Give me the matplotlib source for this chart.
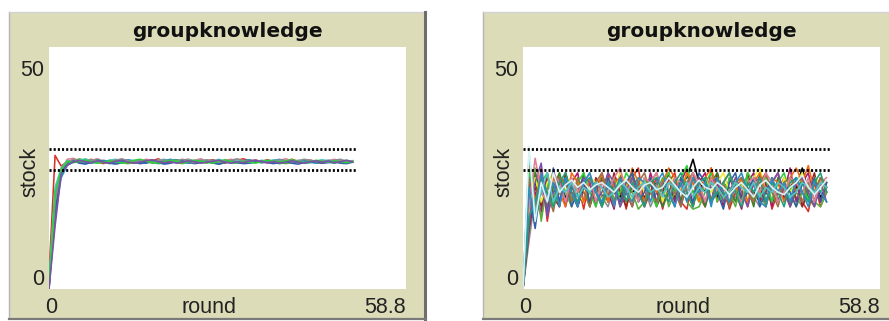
import matplotlib.pyplot as plt
from matplotlib.patches import Rectangle

# NetLogo base colours (plus a couple of shades)
NL = {
    "gray": "#8d8d8d", "red": "#d73229", "orange": "#f16913", "brown": "#9d6e48",
    "yellow": "#eded31", "green": "#59b03c", "lime": "#2cd13b", "turquoise": "#1d9f78",
    "cyan": "#54c4c4", "sky": "#2d8dbe", "blue": "#345da9", "violet": "#7c50a4",
    "magenta": "#a71b6a", "pink": "#e07f96", "black": "#000000", "pale": "#d8f4f4",
    "darkred": "#9a231d", "darkgreen": "#3f7d2b",
}

X_MAX = 58.8
Y_MAX = 50
THRESHOLDS = [28.9, 24.6]
THRESHOLD_END = 50.5

# left plot: stock per group, converging run
left_series = {
    "red": [3, 27.6, 25.4, 26.3, 26.6, 26.1, 26.4, 26.8, 26.2, 25.9, 26.5, 26.7, 26.3, 26.0, 26.4, 26.6, 26.2,
            26.5, 26.9, 26.4, 26.1, 26.3, 26.6, 26.8, 26.4, 26.2, 26.5, 26.7, 26.3, 26.0, 26.4, 26.6, 26.9, 26.5,
            26.2, 26.4, 26.7, 26.3, 26.1, 26.5, 26.8, 26.4, 26.2, 26.6, 26.3, 26.0, 26.4, 26.7, 26.5, 26.2, 26.4],
    "pink": [1, 14, 24.5, 26.8, 27.0, 26.5, 26.2, 26.6, 26.9, 26.4, 26.1, 26.3, 26.7, 26.5, 26.2, 26.4, 26.8,
             26.6, 26.3, 26.0, 26.4, 26.7, 26.5, 26.2, 26.6, 26.9, 26.4, 26.1, 26.3, 26.6, 26.8, 26.4, 26.2, 26.5,
             26.7, 26.3, 26.0, 26.4, 26.6, 26.9, 26.5, 26.2, 26.4, 26.7, 26.3, 26.1, 26.5, 26.8, 26.4, 26.2, 26.5],
    "green": [0.5, 17, 23.5, 25.8, 26.4, 26.9, 26.5, 26.2, 26.0, 26.3, 26.6, 26.4, 26.1, 25.9, 26.2, 26.5, 26.3,
              26.0, 26.2, 26.6, 26.4, 26.1, 25.9, 26.3, 26.5, 26.2, 26.0, 26.4, 26.7, 26.3, 26.1, 26.0, 26.3, 26.6,
              26.4, 26.1, 26.3, 26.5, 26.2, 25.9, 26.1, 26.4, 26.6, 26.3, 26.0, 26.2, 26.5, 26.3, 26.1, 26.4, 26.2],
    "turquoise": [0, 19, 24.2, 25.9, 26.6, 26.3, 26.0, 26.4, 26.7, 26.2, 25.9, 26.2, 26.5, 26.3, 26.0, 26.3, 26.6,
                  26.2, 25.9, 26.1, 26.5, 26.7, 26.3, 26.0, 26.2, 26.4, 26.6, 26.2, 25.8, 26.1, 26.4, 26.2, 26.0,
                  26.3, 26.5, 26.2, 26.4, 26.1, 25.9, 26.2, 26.5, 26.3, 26.0, 26.1, 26.4, 26.6, 26.2, 26.0, 26.3,
                  26.5, 26.3],
    "cyan": [2, 21, 25.0, 26.5, 26.2, 26.6, 26.9, 26.4, 26.1, 26.3, 26.6, 26.8, 26.4, 26.2, 26.5, 26.3, 26.0,
             26.3, 26.6, 26.8, 26.4, 26.2, 26.4, 26.7, 26.5, 26.1, 26.3, 26.5, 26.8, 26.4, 26.2, 26.5, 26.3, 26.0,
             26.2, 26.6, 26.4, 26.7, 26.5, 26.2, 26.3, 26.6, 26.4, 26.1, 26.4, 26.7, 26.5, 26.2, 26.4, 26.6, 26.4],
    "sky": [0, 15, 23.0, 25.5, 26.3, 26.5, 26.2, 26.0, 26.3, 26.6, 26.3, 26.1, 26.4, 26.7, 26.5, 26.2, 26.0,
            26.4, 26.2, 26.5, 26.8, 26.4, 26.2, 26.0, 26.3, 26.6, 26.4, 26.1, 26.5, 26.3, 26.0, 26.2, 26.5, 26.7,
            26.3, 26.1, 26.2, 26.5, 26.8, 26.4, 26.1, 26.3, 26.5, 26.2, 26.0, 26.3, 26.6, 26.4, 26.2, 26.5, 26.3],
    "blue": [1, 16, 24.0, 26.1, 26.5, 26.0, 25.8, 26.2, 26.5, 26.3, 26.0, 25.8, 26.1, 26.4, 26.2, 25.9, 26.1,
             26.4, 26.1, 25.8, 26.0, 26.3, 26.5, 26.2, 25.9, 26.1, 26.3, 26.0, 25.8, 26.2, 26.5, 26.1, 25.9, 26.0,
             26.3, 26.5, 26.1, 25.9, 26.2, 26.4, 26.0, 25.8, 26.1, 26.4, 26.2, 26.0, 26.1, 26.3, 26.0, 25.9, 26.2],
    "gray": [0, 18, 24.8, 26.2, 26.8, 26.4, 26.3, 26.7, 26.4, 26.1, 26.4, 26.6, 26.9, 26.5, 26.3, 26.6, 26.4,
             26.1, 26.5, 26.7, 26.3, 26.5, 26.8, 26.4, 26.1, 26.4, 26.7, 26.5, 26.2, 26.4, 26.6, 26.9, 26.5, 26.3,
             26.6, 26.4, 26.1, 26.4, 26.7, 26.5, 26.3, 26.5, 26.8, 26.6, 26.3, 26.5, 26.3, 26.6, 26.8, 26.4, 26.5],
    "lime": [0.5, 20, 24.6, 26.4, 26.1, 26.4, 26.7, 26.3, 26.0, 26.2, 26.5, 26.3, 26.0, 26.2, 26.6, 26.8, 26.4,
             26.2, 26.0, 26.3, 26.6, 26.4, 26.1, 26.3, 26.6, 26.4, 26.2, 26.0, 26.4, 26.7, 26.3, 26.1, 26.4, 26.2,
             26.0, 26.3, 26.6, 26.4, 26.2, 26.5, 26.7, 26.3, 26.1, 26.3, 26.6, 26.4, 26.2, 26.5, 26.3, 26.1, 26.4],
    "violet": [0, 13, 23.8, 25.6, 26.2, 26.6, 26.3, 26.1, 26.5, 26.2, 26.0, 26.4, 26.6, 26.2, 26.0, 26.2, 26.5,
               26.7, 26.3, 26.1, 26.3, 26.0, 26.2, 26.5, 26.3, 26.0, 26.2, 26.4, 26.6, 26.2, 26.0, 26.3, 26.1,
               26.4, 26.6, 26.3, 26.1, 26.3, 26.0, 26.2, 26.5, 26.2, 26.0, 26.3, 26.5, 26.2, 26.4, 26.1, 26.3,
               26.6, 26.2],
}

# right plot: stock per group, noisy run (black first so it sits underneath)
right_series = {
    "black": [0, 19, 22, 18, 21, 20, 22, 19, 20, 17, 21, 20, 22, 19, 21, 20, 19, 22, 20, 21, 19, 20, 22, 21, 20,
              19, 22, 23, 26.8, 22, 20, 21, 19, 22, 20, 21, 19, 22, 20, 18, 21, 20, 22, 19, 18, 21, 25, 20, 22,
              19, 21],
    "gray": [0, 10, 19, 15, 21, 20, 18, 22, 19, 21, 18, 20, 22, 19, 17, 21, 20, 18, 22, 19, 21, 17, 20, 22, 19,
             21, 18, 20, 23, 19, 17, 21, 20, 22, 18, 19, 21, 23, 19, 17, 21, 20, 18, 22, 21, 19, 17, 21, 20, 18, 21],
    "red": [0, 22, 15, 25, 14, 22, 17, 24, 18, 22, 16.5, 23, 20, 17, 24, 18, 22, 16.5, 23, 25, 17, 20, 23, 16.5,
            22, 24, 18, 16.5, 23, 20, 17, 25, 18, 22, 16.5, 20, 23, 17, 22, 18, 24, 16.5, 20, 23, 17, 22, 18, 16,
            22, 17, 20],
    "darkred": [0, 16, 21, 17, 23, 19, 17, 24, 20, 18, 22, 17, 23, 21, 18, 24, 20, 17, 21, 23, 18, 22, 17, 20,
                24, 18, 22, 20, 17, 23, 21, 18, 24, 20, 17, 22, 19, 24, 18, 21, 17, 22, 24, 18, 21, 23, 17, 20,
                24, 18, 22],
    "magenta": [0, 12, 20, 16, 24, 18, 23, 17, 22, 24, 18, 22, 17, 23, 20, 16.5, 24, 20, 17, 22, 18, 24, 20, 17,
                23, 18, 22, 25, 17, 22, 24, 18, 22, 17, 23, 20, 16.5, 22, 24, 18, 22, 17, 23, 20, 25, 18, 22, 24,
                18, 22, 20],
    "green": [0, 18, 25, 14, 22, 18, 24, 20, 17, 23, 20, 18, 22, 17, 20, 23, 18, 22, 20, 16.5, 18, 22, 20, 23,
              17, 20, 22, 18, 16.5, 17, 20, 23, 18, 22, 20, 17, 22, 23, 18, 20, 17, 22, 18, 23, 20, 17, 20, 22,
              18, 17, 20],
    "darkgreen": [0, 13, 24, 20, 17, 21, 24, 18, 21, 19, 24, 17, 21, 23, 18, 22, 17, 21, 24, 20, 18, 23, 21, 17,
                  20, 23, 18, 24, 20, 21, 17, 22, 24, 19, 21, 18, 23, 21, 17, 24, 20, 18, 23, 21, 17, 20, 23, 19,
                  17, 23, 21],
    "lime": [0, 25, 16, 22, 24, 17, 20, 23, 18, 22, 24, 20, 17, 22, 23, 18, 20, 24, 22, 18, 23, 20, 17, 22, 24,
             20, 23, 25.5, 20, 18, 22, 24, 20, 18, 23, 22, 18, 24, 22, 20, 23, 18, 22, 24, 20, 23, 22, 18, 23, 20,
             22],
    "yellow": [0, 16, 23, 18, 22, 24, 18, 22, 23, 20, 18, 23, 22, 18, 23, 20, 24, 22, 18, 23, 20, 22, 24, 18, 22,
               23, 20, 24, 22, 18, 23, 20, 22, 24, 20, 23, 22, 18, 23, 25, 20, 22, 18, 23, 20, 22, 24, 20, 23, 22,
               20],
    "orange": [0, 27, 18, 24, 16.5, 23, 20, 17, 24, 22, 18, 23, 20, 24, 18, 22, 23, 20, 25, 22, 18, 23, 20, 22,
               25, 23, 20, 24, 22, 18, 23, 25, 20, 22, 24, 20, 23, 18, 22, 24, 20, 23, 22, 18, 23, 25, 22, 25.5,
               20, 23, 22],
    "blue": [0, 20, 12.5, 22, 16, 25, 18, 23, 17, 20, 23, 18, 22, 17, 23, 20, 18, 22, 24, 18, 20, 23, 18, 22, 20,
             17, 23, 20, 18, 24, 22, 18, 20, 16.5, 22, 24, 18, 20, 23, 17, 20, 23, 18, 22, 20, 17, 22, 20, 23, 18,
             22],
    "violet": [0, 14, 22, 26, 15, 20, 23, 18, 22, 17, 23, 22, 18, 20, 24, 22, 17, 20, 23, 20, 17, 22, 24, 20, 18,
               23, 17, 22, 24, 20, 18, 22, 23, 18, 20, 23, 20, 17, 22, 23, 18, 22, 24, 20, 17, 22, 23, 20, 17, 22,
               18],
    "brown": [0, 23, 17, 23, 20, 16, 23, 22, 18, 23, 20, 17, 22, 24, 20, 18, 23, 20, 17, 22, 24, 20, 18, 22, 23,
              20, 17, 22, 24, 20, 22, 18, 23, 20, 17, 22, 23, 20, 18, 22, 24, 20, 17, 22, 23, 20, 18, 22, 20, 23,
              20],
    "pink": [0, 17, 27, 20, 18, 24, 22, 18, 23, 20, 22, 24, 18, 22, 20, 23, 25, 20, 22, 18, 23, 22, 24, 20, 18,
             23, 22, 20, 24, 22, 18, 23, 20, 22, 24, 20, 18, 22, 23, 20, 24, 22, 18, 20, 23, 22, 20, 23, 18, 22, 23],
    "turquoise": [0, 15, 18, 23, 20, 17, 22, 24, 20, 18, 22, 23, 20, 17, 22, 20, 23, 18, 22, 20, 17, 22, 23, 20,
                  18, 22, 24, 20, 17, 22, 23, 18, 20, 22, 24, 20, 17, 22, 20, 23, 18, 22, 20, 17, 22, 23, 20, 18,
                  22, 24, 20],
    "sky": [0, 21, 14, 24, 18, 22, 17, 23, 20, 17, 22, 24, 20, 18, 22, 17, 23, 20, 18, 23, 22, 18, 22, 24, 20,
            17, 22, 18, 23, 20, 22, 17, 23, 20, 18, 22, 24, 20, 22, 18, 17, 23, 20, 22, 18, 23, 20, 17, 22, 20, 18],
    "cyan": [0, 28, 16, 20, 24, 18, 21, 20, 22, 19, 21, 20, 22, 21, 19, 20, 22, 21, 19, 21, 22, 20, 21, 19, 22,
             21, 20, 22, 19, 21, 20, 22, 21, 19, 20, 22, 21, 20, 22, 19, 21, 20, 22, 21, 19, 20, 22, 21, 20, 22, 21],
    "pale": [0, 29.5, 14, 22, 18, 24, 20, 21.5, 22.5, 21, 22, 20.5, 21.5, 22, 21, 20, 21.5, 22.5, 21, 20, 21.5,
             22, 20.5, 21, 23, 21.5, 20, 19, 21, 22.5, 21, 20.5, 22, 21, 19.5, 21, 22, 20.5, 19, 21.5, 22.5, 21,
             20, 19.5, 21, 22, 23.5, 21, 19.5, 21, 22.5],
}

W, H = 889, 321
TAN = "#dcdcb9"
LABEL_FONT = "Liberation Sans"


def fx(px):
    return px / W


def fy(py):
    return 1 - py / H


def draw_panel(fig, x0, series):
    # widget frame with bevelled border, kept behind the plot area
    fig.patches.append(Rectangle((fx(x0), fy(318)), fx(417), (318 - 12) / H, transform=fig.transFigure,
                                 facecolor=TAN, edgecolor="none", zorder=-2))
    border = [
        ([x0, x0], [12, 318], "#b4b4b4", 1.0),
        ([x0, x0 + 417], [12, 12], "#d2d2d8", 1.0),
        ([x0 + 416, x0 + 416], [12, 319], "#6e6e6e", 2.2),
        ([x0, x0 + 417], [318.5, 318.5], "#7a7a7a", 1.6),
    ]
    for xs, ys, c, lw in border:
        fig.add_artist(plt.Line2D([fx(v) for v in xs], [fy(v) for v in ys], color=c, lw=lw, zorder=-1))

    left, right, top, bottom = x0 + 40, x0 + 397, 47, 289
    ax = fig.add_axes([fx(left), fy(bottom), fx(right - left), (bottom - top) / H])
    ax.set_zorder(1)
    ax.set_facecolor("white")
    ax.set_xlim(0, X_MAX)
    ax.set_ylim(0, Y_MAX)
    for s in ax.spines.values():
        s.set_visible(False)
    ax.set_xticks([])
    ax.set_yticks([])

    for name, vals in series.items():
        ax.plot(range(len(vals)), vals, color=NL[name], lw=1.15)
    for y in THRESHOLDS:
        ax.hlines(y, 0, THRESHOLD_END, colors="black", lw=2.0, linestyles=(0, (0.75, 0.75)))

    cx = (left + right) / 2
    fig.text(fx(cx), fy(37), "groupknowledge", ha="center", va="baseline",
             fontsize=14.5, fontweight="bold", family="DejaVu Sans", color="#111111")
    fig.text(fx(left - 5), fy(76), "50", ha="right", va="baseline", fontsize=15.5,
             family=LABEL_FONT, color="#222222")
    fig.text(fx(left - 5), fy(285), "0", ha="right", va="baseline", fontsize=15.5,
             family=LABEL_FONT, color="#222222")
    fig.text(fx(left - 4), fy(313), "0", ha="left", va="baseline", fontsize=15.5,
             family=LABEL_FONT, color="#222222")
    fig.text(fx(right), fy(313), "58.8", ha="right", va="baseline", fontsize=15.5,
             family=LABEL_FONT, color="#222222")
    fig.text(fx(x0 + 200), fy(313), "round", ha="center", va="baseline", fontsize=15.5,
             family=LABEL_FONT, color="#222222")
    fig.text(fx(x0 + 21), fy(172), "stock", ha="center", va="center", rotation=90,
             fontsize=15.5, family=LABEL_FONT, color="#222222")
    return ax


fig = plt.figure(figsize=(W / 100, H / 100), dpi=100)
fig.patch.set_facecolor("white")
draw_panel(fig, 9, left_series)
draw_panel(fig, 483, right_series)
fig.savefig("out.png", dpi=100)
